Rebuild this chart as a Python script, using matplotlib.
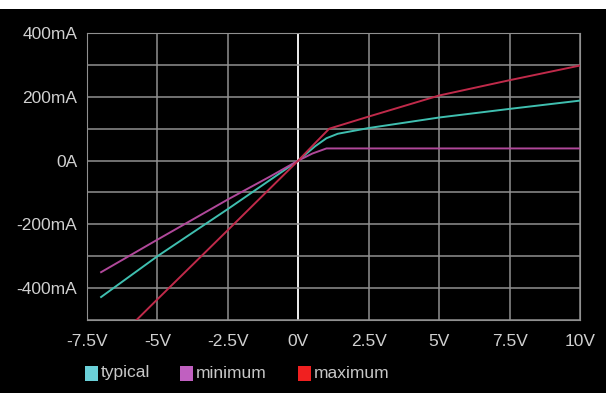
import matplotlib.pyplot as plt
from matplotlib.patches import Rectangle

plt.rcParams["font.family"] = ["Liberation Sans", "DejaVu Sans"]

# 电压 (V) / 电流 (mA)
typ_v = [-7.0, -5.0, -2.5, 0.0, 0.6, 1.0, 1.4, 2.5, 5.0, 7.5, 10.0]
typ_i = [-428, -300, -152, 0, 45, 70, 84, 102, 135, 162, 188]

min_v = [-7.0, -5.0, -2.5, -1.0, 0.0, 0.5, 1.0, 2.5, 5.0, 7.5, 10.0]
min_i = [-350, -248, -122, -50, 0, 22, 38, 38, 38, 38, 38]

max_v = [-7.0, -5.0, -2.5, 0.0, 0.6, 1.1, 2.5, 5.0, 7.5, 10.0]
max_i = [-610, -435, -218, 0, 55, 100, 138, 204, 252, 298]

series = [
    ("typical", typ_v, typ_i, "#3fbfb0", "#6ad0d8"),
    ("minimum", min_v, min_i, "#b0489a", "#c060c0"),
    ("maximum", max_v, max_i, "#c02a4a", "#f02020"),
]

x_ticks = [-7.5, -5, -2.5, 0, 2.5, 5, 7.5, 10]
x_labels = ["-7.5V", "-5V", "-2.5V", "0V", "2.5V", "5V", "7.5V", "10V"]
y_ticks = [400, 200, 0, -200, -400]
y_labels = ["400mA", "200mA", "0A", "-200mA", "-400mA"]

W, H = 606, 393
fig = plt.figure(figsize=(W / 100, H / 100), dpi=100, facecolor="black")
# 顶部白条 (原图裁切残留)
fig.patches.append(Rectangle((0, 1 - 9 / H), 1, 9 / H, transform=fig.transFigure,
                             facecolor="white", edgecolor="none", zorder=0))

ax = fig.add_axes([87 / W, 1 - 320 / H, (580 - 87) / W, (320 - 33) / H])
ax.set_facecolor("black")
ax.set_xlim(-7.5, 10)
ax.set_ylim(-500, 400)

grid_c = "#909090"
for x in x_ticks:
    ax.axvline(x, color="#f0f0f0" if x == 0 else grid_c,
               lw=1.4 if x == 0 else 1.1, zorder=1)
for y in range(-500, 401, 100):
    ax.axhline(y, color=grid_c, lw=1.1, zorder=1)
for s in ax.spines.values():
    s.set_color(grid_c)

for name, v, i, c, _ in series:
    ax.plot(v, i, color=c, lw=1.4, zorder=3)

ax.set_xticks(x_ticks)
ax.set_xticklabels(x_labels)
ax.set_yticks(y_ticks)
ax.set_yticklabels(y_labels)
ax.tick_params(colors="#d0d0d0", labelsize=12.5, length=0)
ax.tick_params(axis="x", pad=10)
ax.tick_params(axis="y", pad=7)

# 图例
leg_x = [85, 180, 298]
for (name, _, _, _, sq), lx in zip(series, leg_x):
    fig.patches.append(Rectangle((lx / W, 1 - 381 / H), 13 / W, 15 / H,
                                 transform=fig.transFigure, facecolor=sq,
                                 edgecolor="none"))
    fig.text((lx + 16) / W, 1 - 373 / H, name, color="#c8c8c8",
             fontsize=12.5, va="center", ha="left")

fig.savefig("out.png", dpi=100, facecolor="black")
